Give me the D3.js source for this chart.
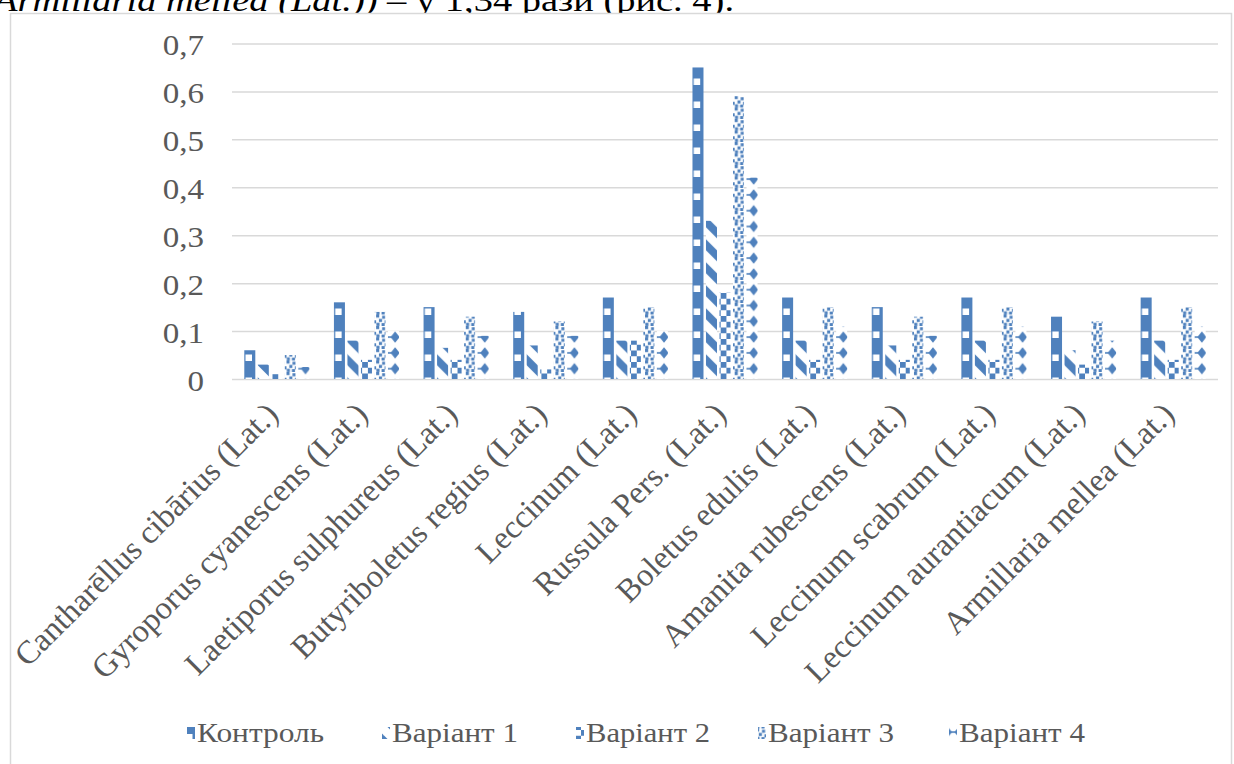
<!DOCTYPE html>
<html>
<head>
<meta charset="utf-8">
<script src="https://cdn.jsdelivr.net/npm/d3@7"></script>
<style>
  html, body { margin: 0; padding: 0; background: #fff; }
  svg { display: block; }
</style>
</head>
<body>
<svg id="chart" width="1234" height="764"></svg>
<script>
// Mushroom species (x categories)
const categories = [
  "Cantharēllus cibārius (Lat.)",
  "Gyroporus cyanescens (Lat.)",
  "Laetiporus sulphureus (Lat.)",
  "Butyriboletus regius (Lat.)",
  "Leccinum (Lat.)",
  "Russula Pers. (Lat.)",
  "Boletus edulis (Lat.)",
  "Amanita rubescens (Lat.)",
  "Leccinum scabrum (Lat.)",
  "Leccinum aurantiacum (Lat.)",
  "Armillaria mellea (Lat.)"
];

// Series names (legend order)
const seriesNames = ["Контроль", "Варіант 1", "Варіант 2", "Варіант 3", "Варіант 4"];

// Values per series, one entry per species
const kontrol  = [0.06, 0.16, 0.15, 0.14, 0.17, 0.65, 0.17, 0.15, 0.17, 0.13, 0.17];
const variant1 = [0.03, 0.08, 0.065, 0.07, 0.08, 0.33, 0.08, 0.07, 0.08, 0.06, 0.08];
const variant2 = [0.01, 0.04, 0.04, 0.02, 0.08, 0.18, 0.04, 0.04, 0.04, 0.03, 0.04];
const variant3 = [0.05, 0.14, 0.13, 0.12, 0.15, 0.59, 0.15, 0.13, 0.15, 0.12, 0.15];
const variant4 = [0.025, 0.10, 0.09, 0.09, 0.10, 0.42, 0.11, 0.09, 0.11, 0.08, 0.11];

// Y axis ticks
const yTicks = [0, 0.1, 0.2, 0.3, 0.4, 0.5, 0.6, 0.7];

const seriesValues = [kontrol, variant1, variant2, variant3, variant4];
const patternIds = ["pat-k", "pat-v1", "pat-v2", "pat-v3", "pat-v4"];

const BLUE = "#4f81bd";
const GRID = "#d9d9d9";
const LABEL = "#595959";
const SERIF = "Liberation Serif, Times New Roman, serif";
const SX = 1.14;   // horizontal stretch of the tick-label glyphs

const svg = d3.select("#chart");

// ---- fill patterns -------------------------------------------------------
const defs = svg.append("defs");

// Контроль: solid blue with small white squares
const pk = defs.append("pattern").attr("id", "pat-k")
  .attr("patternUnits", "userSpaceOnUse")
  .attr("x", 692).attr("y", 90).attr("width", 23).attr("height", 23);
pk.append("rect").attr("width", 23).attr("height", 23).attr("fill", BLUE);
pk.append("rect").attr("x", 0).attr("y", 0).attr("width", 6.5).attr("height", 6.5).attr("fill", "#fff");
pk.append("rect").attr("x", 11.5).attr("y", 11.5).attr("width", 6.5).attr("height", 6.5).attr("fill", "#fff");

// Варіант 1: wide downward diagonal stripes
const p1 = defs.append("pattern").attr("id", "pat-v1")
  .attr("patternUnits", "userSpaceOnUse")
  .attr("x", 706).attr("y", 281).attr("width", 23).attr("height", 23);
p1.append("rect").attr("width", 23).attr("height", 23).attr("fill", "#fff");
p1.append("polygon").attr("points", "0,0 5.5,0 23,17.5 23,23 17.5,23 0,5.5").attr("fill", BLUE);
p1.append("polygon").attr("points", "17.5,0 23,0 23,5.5").attr("fill", BLUE);
p1.append("polygon").attr("points", "0,17.5 0,23 5.5,23").attr("fill", BLUE);

// Варіант 2: checkerboard
const p2 = defs.append("pattern").attr("id", "pat-v2")
  .attr("patternUnits", "userSpaceOnUse")
  .attr("x", 719).attr("y", 293).attr("width", 11.5).attr("height", 11.5);
p2.append("rect").attr("width", 11.5).attr("height", 11.5).attr("fill", "#fff");
p2.append("rect").attr("x", 0).attr("y", 0).attr("width", 5.75).attr("height", 5.75).attr("fill", BLUE);
p2.append("rect").attr("x", 5.75).attr("y", 5.75).attr("width", 5.75).attr("height", 5.75).attr("fill", BLUE);

// Варіант 3: confetti dots
const p3 = defs.append("pattern").attr("id", "pat-v3")
  .attr("patternUnits", "userSpaceOnUse")
  .attr("x", 733).attr("y", 96).attr("width", 11.5).attr("height", 11.5);
p3.append("rect").attr("width", 11.5).attr("height", 11.5).attr("fill", "#fff");
[[0, 0], [6, 1.2], [2.8, 4.4], [8.4, 5.8], [0.3, 8.3], [5.4, 8.6]].forEach(([x, y]) => {
  p3.append("rect").attr("x", x).attr("y", y).attr("width", 3.1).attr("height", 3.1).attr("fill", BLUE);
});

// Варіант 4: solid diamonds with side points
const p4 = defs.append("pattern").attr("id", "pat-v4")
  .attr("patternUnits", "userSpaceOnUse")
  .attr("x", 746.25).attr("y", 187).attr("width", 11.5).attr("height", 15.8);
p4.append("rect").attr("width", 11.5).attr("height", 15.8).attr("fill", "#fff");
p4.append("polygon")
  .attr("points", "1.2,7.9 5.75,2.1 10.3,7.9 5.75,13.7")
  .attr("fill", BLUE);
p4.append("rect").attr("x", 0).attr("y", 7.1).attr("width", 11.5).attr("height", 1.6).attr("fill", BLUE);

// ---- text running above the chart (page body) ----------------------------
const head = svg.append("text")
  .attr("x", -6).attr("y", 11)
  .attr("textLength", 740).attr("lengthAdjust", "spacingAndGlyphs")
  .attr("font-family", SERIF).attr("font-size", 32).attr("fill", "#000");
head.append("tspan").attr("font-style", "italic").text("Armillaria mellea (Lat.))");
head.append("tspan").text(" – у 1,34 рази (рис. 4).");

// ---- chart frame ---------------------------------------------------------
svg.append("rect")
  .attr("x", 10.5).attr("y", 13.5).attr("width", 1221).attr("height", 780)
  .attr("fill", "#fff").attr("stroke", GRID).attr("stroke-width", 1.5);

// ---- scales ---------------------------------------------------------------
const plotLeft = 232, plotRight = 1218, plotTop = 43.5, plotBottom = 379;

const x = d3.scaleBand().domain(categories).range([plotLeft, plotRight]).padding(0);
const xs = d3.scaleBand().domain(seriesNames).range([0, x.bandwidth()])
  .paddingInner(0.185).paddingOuter(0.91);
const y = d3.scaleLinear().domain([0, 0.7]).range([plotBottom, plotTop]);

const locale = d3.formatLocale({ decimal: ",", thousands: " ", grouping: [3], currency: ["", ""] });
const fmt = locale.format(".1f");

// ---- y axis with gridlines ------------------------------------------------
const yAxis = svg.append("g")
  .attr("transform", `translate(${plotLeft},0)`)
  .call(d3.axisLeft(y).tickValues(yTicks)
    .tickSizeInner(-(plotRight - plotLeft)).tickSizeOuter(0).tickPadding(28)
    .tickFormat(d => d === 0 ? "0" : fmt(d)));
yAxis.select(".domain").remove();
yAxis.selectAll(".tick line").attr("stroke", GRID).attr("stroke-width", 1.5);
yAxis.selectAll(".tick text")
  .attr("fill", LABEL).attr("font-size", 29).attr("font-family", SERIF)
  .attr("x", 0).attr("dy", "0.38em")
  .attr("transform", `translate(-28,0) scale(${SX},1)`);

// ---- bars -------------------------------------------------------------------
const groups = svg.append("g").selectAll("g")
  .data(categories)
  .join("g")
  .attr("transform", d => `translate(${x(d)},0)`);

groups.selectAll("rect")
  .data((d, i) => seriesNames.map((s, k) => ({ s, k, v: seriesValues[k][i] })))
  .join("rect")
  .attr("x", d => xs(d.s))
  .attr("width", xs.bandwidth())
  .attr("y", d => y(d.v))
  .attr("height", d => y(0) - y(d.v))
  .attr("fill", d => `url(#${patternIds[d.k]})`);

// ---- x axis labels ------------------------------------------------------------
const xAxis = svg.append("g")
  .attr("transform", `translate(0,${plotBottom})`)
  .call(d3.axisBottom(x).tickSize(0).tickPadding(0));
xAxis.select(".domain").remove();
xAxis.selectAll(".tick text")
  .attr("fill", LABEL).attr("font-size", 32.5).attr("font-family", SERIF)
  .attr("text-anchor", "end")
  .attr("dy", null)
  .attr("y", 0)
  .attr("transform", "translate(3,37) rotate(-45)");

// ---- legend ---------------------------------------------------------------------
const legendTextX = [197, 392, 586, 768, 959];
const legendTextW = [127, 126, 124, 126, 126];
const legend = svg.append("g");
seriesNames.forEach((name, k) => {
  const tx = legendTextX[k];
  legend.append("rect").attr("x", tx - 10).attr("y", 727).attr("width", 8).attr("height", 12)
    .attr("fill", `url(#${patternIds[k]})`);
  legend.append("text")
    .attr("x", tx).attr("y", 742)
    .attr("textLength", legendTextW[k]).attr("lengthAdjust", "spacingAndGlyphs")
    .attr("font-family", SERIF).attr("font-size", 28).attr("fill", LABEL).text(name);
});
</script>
</body>
</html>
